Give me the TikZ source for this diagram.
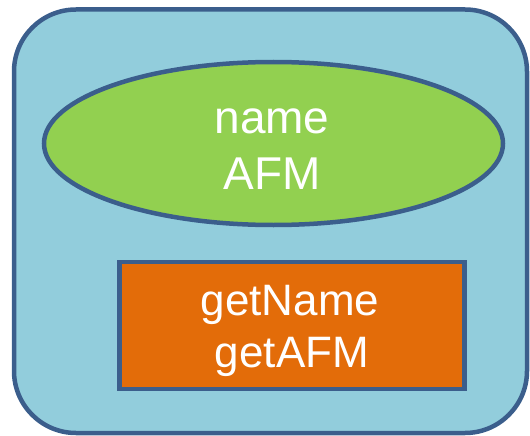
\documentclass[tikz,border=0pt]{standalone}
\usepackage{fontspec}
\setmainfont{Liberation Sans}
\usepackage{xcolor}
\usetikzlibrary{positioning,shapes.geometric}

\definecolor{clsblue}{HTML}{92CDDC}
\definecolor{clsline}{HTML}{3B5E8C}
\definecolor{attrgreen}{HTML}{92D050}
\definecolor{methorange}{HTML}{E36C09}

\begin{document}
\begin{tikzpicture}[
  x=1pt, y=-1pt,
  cls/.style={draw=clsline, fill=clsblue, line width=4.5pt,
    rounded corners=62pt},
  attrs/.style={draw=clsline, fill=attrgreen, line width=4.5pt,
    ellipse, inner sep=0pt, minimum width=459pt, minimum height=163pt},
  meths/.style={draw=clsline, fill=methorange, line width=4.5pt,
    rectangle, inner sep=0pt, minimum width=345pt, minimum height=127pt},
  bigtxt/.style={text=white, anchor=base, inner sep=0pt,
    font=\fontsize{46}{56}\selectfont},
  midtxt/.style={text=white, anchor=base, inner sep=0pt,
    font=\fontsize{44}{52}\selectfont}
]
\useasboundingbox (0,0) rectangle (530,436);

% Class frame
\draw[cls] (14,9.5) rectangle (527,433);

% Attributes
\node[attrs] (attr) at (273.5,143.5) {};
\node[bigtxt] (attrname) at (272,133) {name};
\node[bigtxt] (attrafm) at (272,189) {AFM};

% Methods
\node[meths] (meth) at (292,325.5) {};
\node[midtxt] (methname) at (290,315) {getName};
\node[midtxt] (methafm) at (292,367) {getAFM};
\end{tikzpicture}
\end{document}
